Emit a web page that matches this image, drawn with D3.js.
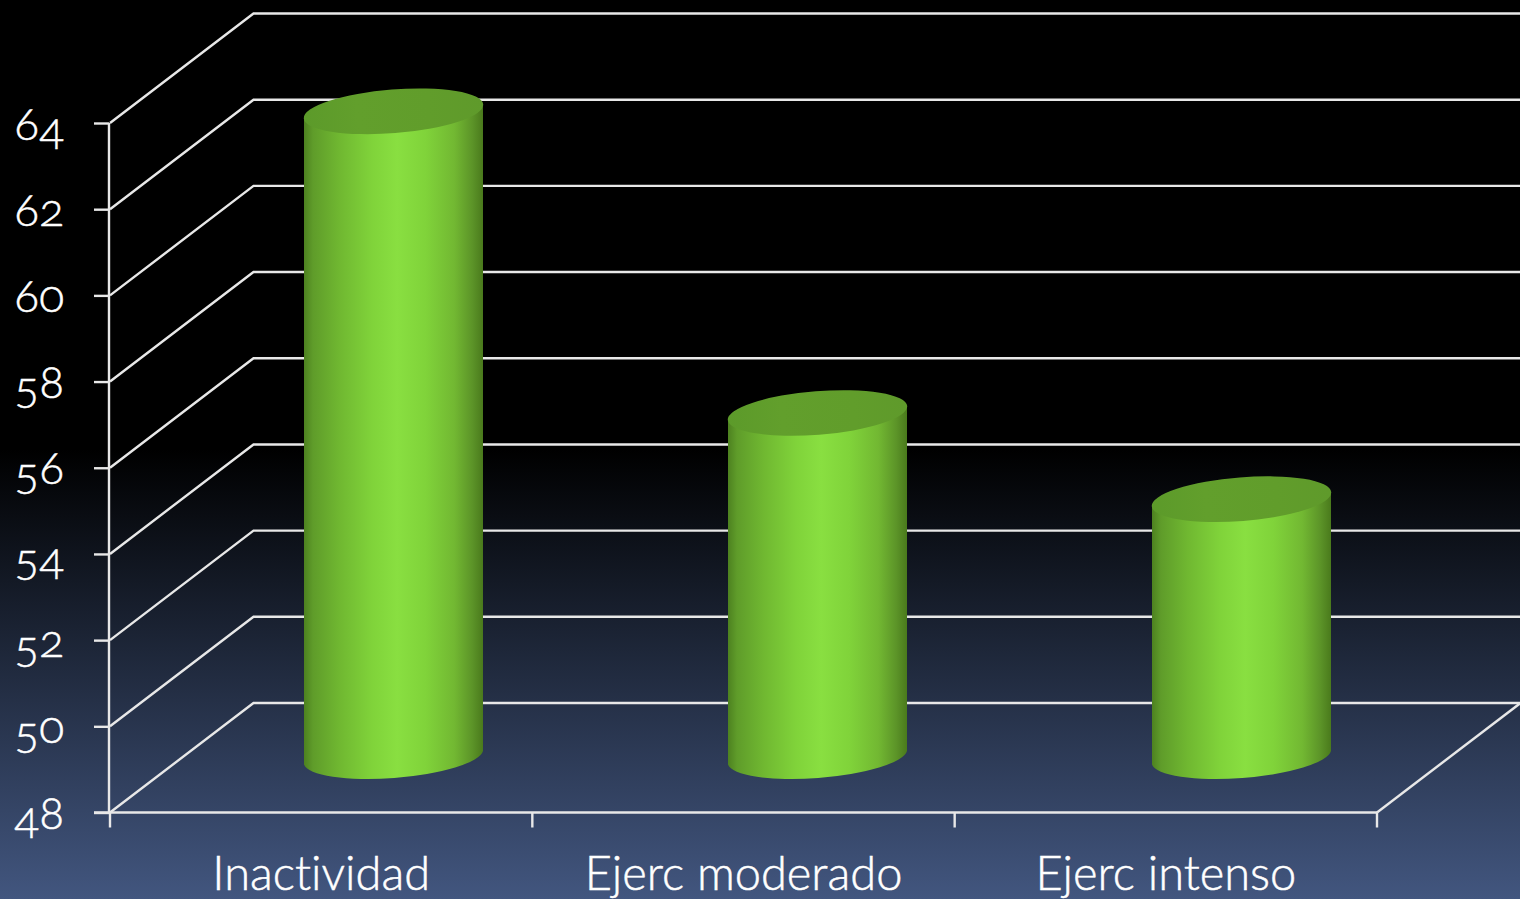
<!DOCTYPE html>
<html><head><meta charset="utf-8">
<script src="https://cdn.jsdelivr.net/npm/d3@7"></script>
<style>
html,body{margin:0;padding:0;background:#000;overflow:hidden}
svg{display:block}
text{font-family:Lato,"Open Sans",sans-serif;fill:#fff;stroke:#fff;stroke-width:0.5px;font-weight:300;font-feature-settings:"onum" 1,"liga" 0;font-variant-numeric:oldstyle-nums;font-variant-ligatures:none}
</style></head><body>
<script>
const categories = ["Inactividad","Ejerc moderado","Ejerc intenso"];
const values = [63, 56, 54];
const yTicks = [48,50,52,54,56,58,60,62,64];

const W=1520,H=899;
const x0=110,x1=1377,yBase=812.5,yTop=123;
const depthX=143.5,depthY=109.5;
const lineCol="#e8e8e8";
const x=d3.scaleBand().domain(categories).range([x0,x1]);
const barX=d3.scalePoint().domain(categories).range([393.5,1241.5]);
const y=d3.scaleLinear().domain([48,64]).range([yBase,yTop]);

const svg=d3.select("body").append("svg").attr("width",W).attr("height",H);
const defs=svg.append("defs");
const bg=defs.append("linearGradient").attr("id","bg").attr("x1",0).attr("x2",0).attr("y1",0).attr("y2",1);
[[0,"#000"],[0.5,"#000"],[1,"#42567f"]].forEach(s=>bg.append("stop").attr("offset",s[0]).attr("stop-color",s[1]));
const cyl=defs.append("linearGradient").attr("id","cyl");
[[0,"#4d8120"],[0.05,"#5f9c2a"],[0.2,"#70b831"],[0.38,"#80d33a"],[0.52,"#89df41"],[0.68,"#80d33a"],[0.84,"#72b832"],[0.94,"#5c9428"],[1,"#4a7a1c"]]
 .forEach(s=>cyl.append("stop").attr("offset",s[0]).attr("stop-color",s[1]));
const cap=defs.append("linearGradient").attr("id","cap");
[[0,"#5c9a2a"],[0.3,"#629f2c"],[0.7,"#619d2b"],[1,"#5f9a2b"]].forEach(s=>cap.append("stop").attr("offset",s[0]).attr("stop-color",s[1]));

svg.append("rect").attr("width",W).attr("height",H).attr("fill","url(#bg)");

// walls
const g=svg.append("g").attr("fill","none").attr("stroke",lineCol).attr("stroke-width",2.4);
g.selectAll("path.grid").data(yTicks).join("path").attr("class","grid")
 .attr("d",d=>`M${x0},${y(d)}L${x0+depthX},${y(d)-depthY}L${W+2},${y(d)-depthY}`);
g.append("path").attr("d",`M${x1},${yBase}L${x1+depthX},${yBase-depthY}`);

// axes
const baselineShift=16;
const yAxis=d3.axisLeft(y).tickValues(yTicks).tickSize(15).tickPadding(30).tickFormat(d3.format("d"));
const ga=svg.append("g").attr("transform",`translate(${x0-1},0)`).call(yAxis);
ga.selectAll("path,line").attr("stroke",lineCol).attr("stroke-width",2.4);
ga.select("path").attr("d",`M0,${yTop}V${yBase}`);
ga.selectAll("text").attr("font-size",46).attr("fill","#fff").attr("dy",null)
 .each(function(d){
   const t=d3.select(this); const s=String(d); t.text(null);
   let prev=0;
   s.split("").forEach(ch=>{
     const shift=baselineShift+("45".includes(ch)?5:0);
     t.append("tspan").attr("dy",shift-prev).text(ch);
     prev=shift;
   });
 });

const xAxis=d3.axisBottom(x).tickSize(0).tickPadding(44);
const gb=svg.append("g").attr("transform",`translate(0,${yBase})`).call(xAxis);
gb.select("path").attr("stroke",lineCol).attr("stroke-width",2.4).attr("d",`M${x0-16},0H${x1}`);
gb.selectAll("text").attr("font-size",47).attr("fill","#fff");
gb.selectAll("line.bound").data(d3.range(categories.length+1)).join("line").attr("class","bound")
 .attr("x1",i=>x0+i*x.step()).attr("x2",i=>x0+i*x.step()).attr("y1",0).attr("y2",15)
 .attr("stroke",lineCol).attr("stroke-width",2.4);

// cylinders
const rx=90,ry=21.8,rot=-4.5,hw=89.5,off=6.8;
const bars=svg.append("g").selectAll("g").data(categories.map((c,i)=>({c,v:values[i]}))).join("g");
const cx=d=>barX(d.c);
const cyT=d=>y(d.v)-depthY/2, cyB=d=>y(48)-depthY/2;
bars.append("path").attr("fill","url(#cyl)").attr("d",d=>{
  const c=cx(d),t=cyT(d),b=cyB(d);
  return `M${c-hw},${t+off}L${c-hw},${b+off}A${rx},${ry} ${rot} 0 0 ${c+hw},${b-off}L${c+hw},${t-off}A${rx},${ry} ${rot} 0 1 ${c-hw},${t+off}Z`;
});
bars.append("ellipse").attr("fill","url(#cap)").attr("rx",rx).attr("ry",ry)
 .attr("transform",d=>`translate(${cx(d)},${cyT(d)}) rotate(${rot})`);
</script>
</body></html>
